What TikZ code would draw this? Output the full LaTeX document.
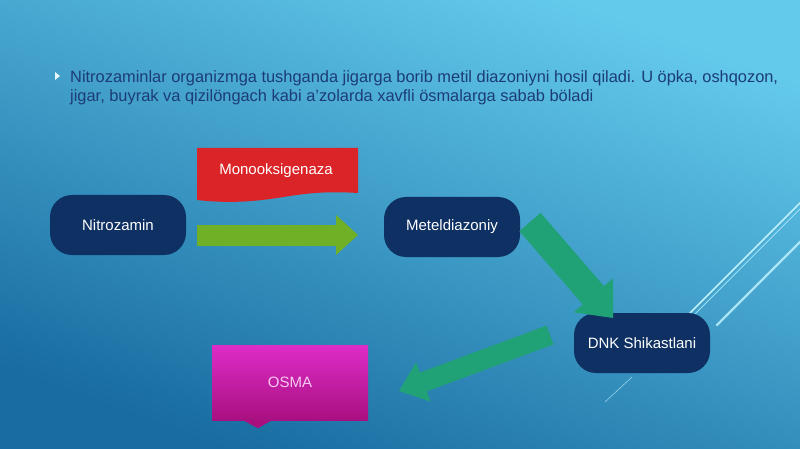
\documentclass[tikz,border=0pt]{standalone}
\usepackage{fontspec}
\setmainfont{Liberation Sans}
\usetikzlibrary{arrows.meta}
\definecolor{bgtop}{RGB}{100,202,236}
\definecolor{bgbot}{RGB}{24,108,160}
\definecolor{navy}{RGB}{14,48,98}
\definecolor{bodytext}{RGB}{28,60,118}
\definecolor{lime}{RGB}{112,176,38}
\definecolor{teal}{RGB}{32,162,118}
\definecolor{enzred}{RGB}{218,36,40}
\definecolor{magtop}{RGB}{222,44,200}
\definecolor{magbot}{RGB}{168,16,128}
\definecolor{streak}{RGB}{190,240,252}

\begin{document}
\begin{tikzpicture}[x=1pt, y=-1pt,
  pill/.style={fill=navy, text=white, rounded corners=22pt,
    minimum width=136pt, minimum height=60pt, font=\fontsize{15}{18}\selectfont},
  bigarrow/.style n args={4}{draw=#1, line width=#2,
    -{Triangle[length=#3, width=#4, line width=0pt]}}]

  % Background
  \useasboundingbox (0,0) rectangle (800,449);
  \clip (0,0) rectangle (800,449);
  \shade[top color=bgtop, bottom color=bgbot, shading angle=-20] (0,0) rectangle (800,449);

  % Decorative streaks
  \draw[streak, line width=1.6pt, line cap=round] (690,313) -- (810,193);
  \draw[streak!60!bgtop, line width=0.8pt] (695,314) -- (810,199);
  \draw[streak, line width=2.4pt, line cap=round, opacity=0.85] (717,325) -- (810,232);
  \draw[streak, line width=0.6pt, opacity=0.7] (605,402) -- (632,377);

  % Intro text
  \fill[white!85!bgtop] (55,72) -- (60,76) -- (55,80) -- cycle;
  \node[anchor=base west, inner sep=0pt, align=left, text=bodytext,
    font=\fontsize{16.4}{19.5}\selectfont] (intro) at (70,102)
    {Nitrozaminlar organizmga tushganda jigarga borib metil diazoniyni hosil qiladi. U öpka, oshqozon,\\
     jigar, buyrak va qizilöngach kabi a'zolarda xavfli ösmalarga sabab böladi};

  % Enzyme label
  \fill[enzred] (197,148) -- (358,148) -- (358,193)
    .. controls (310,190) and (290,197) .. (262,200)
    .. controls (235,203) and (215,202) .. (197,200) -- cycle;
  \node[text=white, font=\fontsize{15}{18}\selectfont] (enzim) at (276,171) {Monooksigenaza};

  % Stages
  \node[pill] (nitro) at (118,225) {Nitrozamin};
  \node[pill] (metil) at (452,227) {Meteldiazoniy};
  \node[pill] (dnk) at (642,343) {DNK Shikastlani};

  % Result
  \node[top color=magtop, bottom color=magbot, text=magtop!25!white,
    minimum width=156pt, minimum height=75pt, font=\fontsize{15}{18}\selectfont]
    (osma) at (290,382.5) {OSMA};
  \fill[magbot] ([xshift=-47pt]osma.south) -- ([xshift=-32pt,yshift=-8pt]osma.south)
    -- ([xshift=-18pt]osma.south) -- cycle;

  % Arrows
  \coordinate (a1s) at (197,235);
  \coordinate (a1e) at (358,235);
  \coordinate (a2s) at (530,222);
  \coordinate (a2e) at (613,318);
  \coordinate (a3s) at (550,335);
  \coordinate (a3e) at (399,391);
  \draw[bigarrow={lime}{21pt}{22pt}{40pt}] (a1s) -- (a1e);
  \draw[bigarrow={teal}{28pt}{30pt}{52pt}] (a2s) -- (a2e);
  \draw[bigarrow={teal}{20pt}{26pt}{42pt}] (a3s) -- (a3e);
\end{tikzpicture}
\end{document}
